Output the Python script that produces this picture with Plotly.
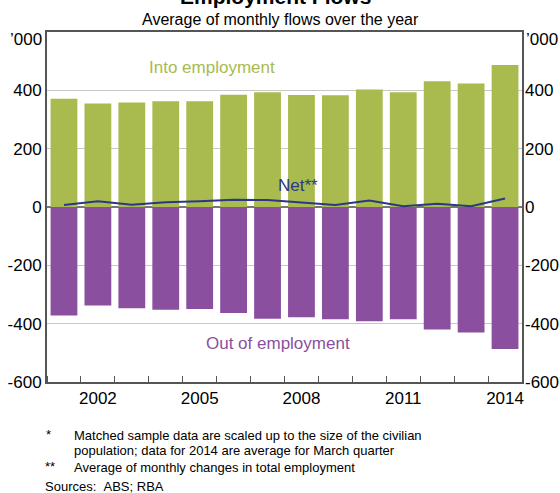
import plotly.graph_objects as go

years = list(range(2001, 2015))
into_employment = [371, 355, 358, 363, 363, 385, 393, 384, 383, 403, 393, 431, 423, 487]
out_of_employment = [-372, -338, -347, -352, -350, -363, -383, -378, -385, -392, -385, -420, -430, -487]
net = [7, 20, 8, 16, 20, 25, 24, 16, 7, 22, 3, 11, 3, 29]
label_years = [2002, 2005, 2008, 2011, 2014]
y_ticks = [-600, -400, -200, 0, 200, 400]

GREEN = "#A9BA4F"
PURPLE = "#8A4F9E"
NAVY = "#2B3886"
FONT = "Liberation Sans, Arial, sans-serif"

W, H = 560, 493
L, R, T, B = 47, 38, 32, 111
PW, PH = W - L - R, H - T - B


def px(x):
    return (x - L) / PW


def py(y):
    return (H - B - y) / PH


fig = go.Figure()
fig.add_trace(go.Bar(x=years, y=into_employment, marker=dict(color=GREEN, line=dict(width=0)),
                     name="Into employment", showlegend=False))
fig.add_trace(go.Bar(x=years, y=out_of_employment, marker=dict(color=PURPLE, line=dict(width=0)),
                     name="Out of employment", showlegend=False))
fig.add_trace(go.Scatter(x=years, y=net, mode="lines", line=dict(color=NAVY, width=2),
                         name="Net", showlegend=False))
fig.add_trace(go.Scatter(x=years, y=net, mode="lines", line=dict(width=0), yaxis="y2",
                         showlegend=False, hoverinfo="skip", opacity=0))

fig.update_layout(
    width=W, height=H,
    margin=dict(l=L, r=R, t=T, b=B, autoexpand=False),
    paper_bgcolor="white", plot_bgcolor="white",
    barmode="relative", bargap=0.21,
    font=dict(family=FONT, size=17, color="black"),
    xaxis=dict(
        range=[2000.5, 2014.5], automargin=False,
        tickvals=label_years, ticktext=[str(y) for y in label_years],
        ticks="", showgrid=False, zeroline=False,
        showline=True, linecolor="#555", linewidth=2, mirror=True,
        tickfont=dict(size=17),
        minor=dict(tick0=2000.5, dtick=1, ticks="inside", ticklen=6, tickcolor="#555", tickwidth=1, showgrid=False),
    ),
    yaxis=dict(
        range=[-600, 600], tickvals=y_ticks, ticktext=[str(v) for v in y_ticks], automargin=False,
        showgrid=True, gridcolor="#C8C8C8", gridwidth=1,
        zeroline=True, zerolinecolor="#777", zerolinewidth=2,
        showline=True, linecolor="#555", linewidth=2, mirror=True,
        ticks="", tickfont=dict(size=17),
    ),
    yaxis2=dict(
        range=[-600, 600], tickvals=y_ticks, ticktext=[str(v) for v in y_ticks], automargin=False,
        overlaying="y", side="right", showgrid=False, zeroline=False,
        showline=False, ticks="", tickfont=dict(size=17), ticklabelstandoff=2,
    ),
)

ann = []


def text(x, y, s, size=17, color="black", xanchor="center", bold=False):
    ann.append(dict(x=px(x), y=py(y), xref="paper", yref="paper", text=("<b>%s</b>" % s) if bold else s,
                    showarrow=False, xanchor=xanchor, yanchor="middle",
                    font=dict(size=size, color=color, family=FONT)))


text(280, -4, "Employment Flows*", size=21, bold=True)
text(280, 19, "Average of monthly flows over the year", size=16)
text(44, 39, "\u2019000", xanchor="right")
text(524, 39, "\u2019000", xanchor="left")
text(212, 67, "Into employment", color=GREEN)
text(298, 186, "Net**", color=NAVY)
text(278, 343, "Out of employment", color=PURPLE)
text(44, 434, "*", size=13, xanchor="left")
text(72, 435, "Matched sample data are scaled up to the size of the civilian", size=13, xanchor="left")
text(72, 450, "population; data for 2014 are average for March quarter", size=13, xanchor="left")
text(43, 466, "**", size=13, xanchor="left")
text(72, 467, "Average of monthly changes in total employment", size=13, xanchor="left")
text(43, 486, "Sources:\u00a0\u00a0ABS; RBA", size=13, xanchor="left")

fig.update_layout(annotations=ann)
fig.write_html("out.html", config={"displayModeBar": False},
               post_script="document.body.style.margin='0px';document.body.style.overflow='hidden';")
